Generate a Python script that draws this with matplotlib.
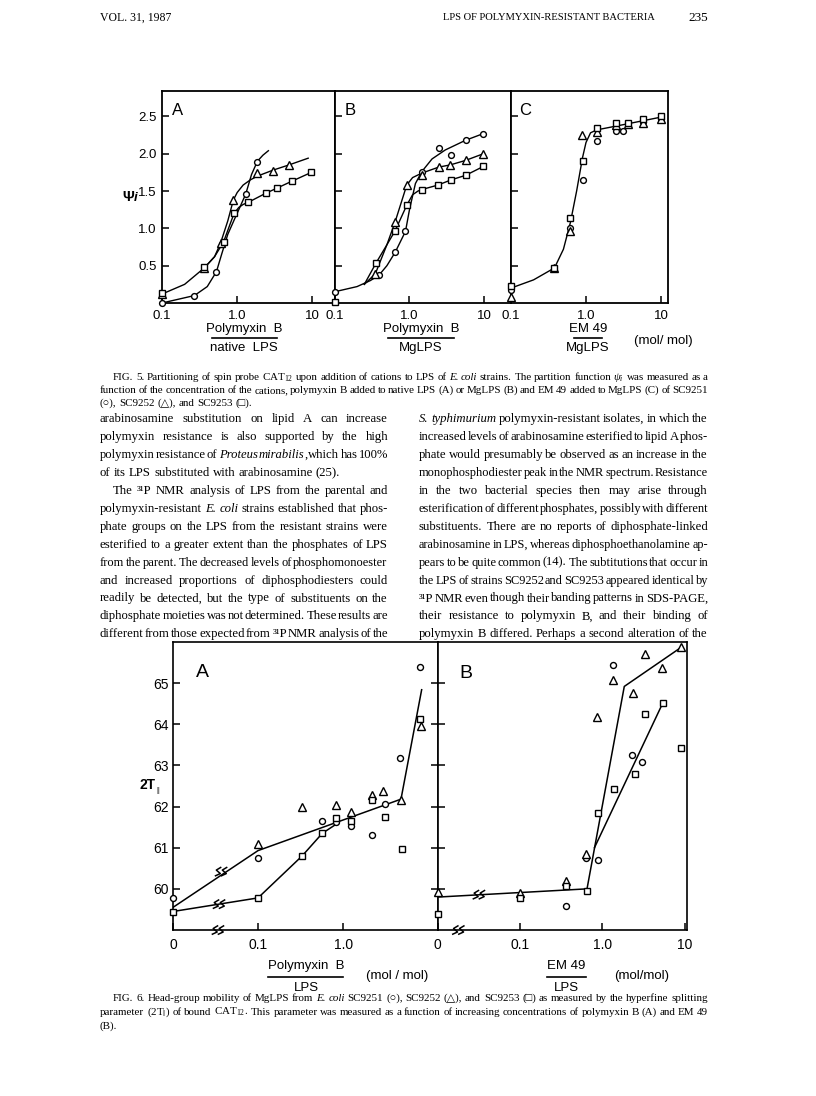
import re
import numpy as np
import matplotlib
matplotlib.use("Agg")
import matplotlib.pyplot as plt
from matplotlib.lines import Line2D
from matplotlib.ticker import NullLocator, FixedLocator, FixedFormatter

plt.rcParams['mathtext.fontset'] = 'custom'
plt.rcParams['mathtext.rm'] = 'Liberation Serif'
plt.rcParams['mathtext.it'] = 'Liberation Serif:italic'

# ---------------- data: Fig. 5 (psi_i vs cation/LPS, mol/mol) ----------------
a_circ_x = [0.1, 0.27, 0.53, 0.62, 1.3, 1.86]
a_circ_y = [0.0, 0.10, 0.42, 0.79, 1.46, 1.89]
a_tri_x = [0.1, 0.365, 0.60, 0.89, 1.86, 2.96, 4.9]
a_tri_y = [0.12, 0.47, 0.80, 1.38, 1.74, 1.77, 1.85]
a_sq_x = [0.1, 0.365, 0.66, 0.91, 1.41, 2.4, 3.4, 5.3, 9.7]
a_sq_y = [0.14, 0.48, 0.82, 1.20, 1.35, 1.47, 1.54, 1.63, 1.75]
# hand-drawn curves
a_circ_cx = [0.1, 0.27, 0.4, 0.53, 0.62, 0.75, 0.9, 1.05, 1.3, 1.55, 1.86, 2.2, 2.6]
a_circ_cy = [0.0, 0.10, 0.22, 0.42, 0.65, 0.92, 1.10, 1.25, 1.46, 1.72, 1.90, 1.98, 2.04]
a_tri_cx = [0.1, 0.2, 0.365, 0.5, 0.6, 0.75, 0.89, 1.0, 1.2, 1.5, 1.86, 3.0, 4.9, 8.8]
a_tri_cy = [0.12, 0.25, 0.47, 0.62, 0.80, 1.10, 1.38, 1.48, 1.58, 1.65, 1.70, 1.78, 1.85, 1.94]
a_sq_cx = [0.365, 0.5, 0.66, 0.8, 0.91, 1.05, 1.2, 1.41, 2.4, 3.4, 5.3, 9.7]
a_sq_cy = [0.47, 0.62, 0.82, 1.05, 1.20, 1.28, 1.32, 1.35, 1.47, 1.54, 1.63, 1.75]

b_circ_x = [0.1, 0.39, 0.645, 0.885, 1.46, 2.5, 3.6, 5.6, 9.7]
b_circ_y = [0.15, 0.37, 0.68, 0.96, 1.76, 2.08, 1.98, 2.18, 2.27]
b_tri_x = [0.35, 0.645, 0.92, 1.46, 2.45, 3.5, 5.6, 9.7]
b_tri_y = [0.39, 1.09, 1.58, 1.72, 1.82, 1.85, 1.91, 2.00]
b_sq_x = [0.1, 0.36, 0.645, 0.92, 1.46, 2.4, 3.6, 5.6, 9.7]
b_sq_y = [0.02, 0.54, 0.97, 1.31, 1.52, 1.58, 1.65, 1.71, 1.83]
b_circ_cx = [0.1, 0.2, 0.3, 0.39, 0.5, 0.645, 0.885, 1.0, 1.2, 1.46, 2.0, 3.0, 5.6, 9.7]
b_circ_cy = [0.15, 0.22, 0.30, 0.37, 0.50, 0.68, 0.96, 1.25, 1.60, 1.76, 1.93, 2.05, 2.18, 2.27]
b_tri_cx = [0.25, 0.35, 0.5, 0.645, 0.92, 1.1, 1.46, 2.45, 3.5, 5.6, 9.7]
b_tri_cy = [0.25, 0.39, 0.78, 1.09, 1.58, 1.68, 1.74, 1.82, 1.85, 1.91, 2.00]
b_sq_cx = [0.25, 0.36, 0.5, 0.645, 0.92, 1.1, 1.3, 1.46, 2.4, 3.6, 5.6, 9.7]
b_sq_cy = [0.25, 0.54, 0.78, 0.97, 1.31, 1.45, 1.50, 1.52, 1.58, 1.65, 1.71, 1.83]

c_circ_x = [0.1, 0.62, 0.91, 1.42, 2.55, 3.07, 5.7, 9.9]
c_circ_y = [0.18, 1.00, 1.65, 2.17, 2.30, 2.31, 2.42, 2.47]
c_tri_x = [0.1, 0.38, 0.62, 0.88, 1.42, 2.55, 3.65, 5.7, 9.9]
c_tri_y = [0.08, 0.47, 0.96, 2.25, 2.29, 2.39, 2.40, 2.41, 2.46]
c_sq_x = [0.1, 0.38, 0.62, 0.91, 1.42, 2.55, 3.65, 5.7, 9.9]
c_sq_y = [0.23, 0.47, 1.14, 1.90, 2.34, 2.41, 2.41, 2.46, 2.51]
c_cx = [0.1, 0.2, 0.38, 0.5, 0.62, 0.75, 0.9, 1.0, 1.15, 1.4, 2.0, 4.0, 10.0]
c_cy = [0.20, 0.31, 0.47, 0.72, 1.08, 1.50, 1.95, 2.15, 2.28, 2.32, 2.35, 2.41, 2.49]

# ---------------- data: Fig. 6 (2T|| vs cation/LPS, 0 = no cation) ----------------
d_circ_x = [0, 0.1, 0.57, 0.82, 1.24, 2.17, 3.1, 4.7, 8.05]
d_circ_y = [59.77, 60.74, 61.65, 61.62, 61.53, 61.31, 62.06, 63.19, 65.40]
d_tri_x = [0.1, 0.33, 0.82, 1.24, 2.17, 2.93, 4.8, 8.2]
d_tri_y = [61.10, 62.00, 62.05, 61.88, 62.28, 62.38, 62.15, 63.95]
d_sq_x = [0, 0.1, 0.33, 0.57, 0.82, 1.24, 2.17, 3.1, 4.9, 8.1]
d_sq_y = [59.43, 59.78, 60.80, 61.35, 61.72, 61.65, 62.16, 61.75, 60.97, 64.12]
d_line1_x = [0, 0.1, 4.8, 8.4]
d_line1_y = [59.55, 60.93, 62.18, 64.84]
d_line2_x = [0, 0.1, 0.33, 0.57, 0.8]
d_line2_y = [59.45, 59.78, 60.80, 61.35, 61.55]

e_circ_x = [0.36, 0.64, 0.89, 1.35, 2.3, 2.98]
e_circ_y = [59.58, 60.75, 60.71, 65.43, 63.25, 63.09]
e_tri_x = [0, 0.1, 0.36, 0.64, 0.86, 1.35, 2.37, 3.3, 5.3, 9.0]
e_tri_y = [59.93, 59.90, 60.18, 60.85, 64.17, 65.08, 64.76, 65.71, 65.38, 65.87]
e_sq_x = [0, 0.1, 0.36, 0.65, 0.89, 1.4, 2.45, 3.3, 5.4, 9.0]
e_sq_y = [59.39, 59.78, 60.08, 59.96, 61.84, 62.42, 62.78, 64.26, 64.52, 63.43]
e_line1_x = [0, 0.65, 1.84, 9.0]
e_line1_y = [59.80, 60.00, 64.92, 65.87]
e_line2_x = [0.8, 5.4]
e_line2_y = [61.00, 64.52]

ZERO = 0.01  # the "0" position sits one decade left of 0.1 on the broken axis

# ---------------- page text ----------------
fig5_caption = [
    "FIG. 5. Partitioning of spin probe CAT$_{12}$ upon addition of cations to LPS of *E.* *coli* strains. The partition function $\\psi_i$ was measured as a",
    "function of the concentration of the cations, polymyxin B added to native LPS (A) or MgLPS (B) and EM 49 added to MgLPS (C) of SC9251",
    "(○), SC9252 (△), and SC9253 (□).",
]
left_col = [
    "arabinosamine substitution on lipid A can increase",
    "polymyxin resistance is also supported by the high",
    "polymyxin resistance of *Proteus* *mirabilis*, which has 100%",
    "of its LPS substituted with arabinosamine (25).",
    "The ³¹P NMR analysis of LPS from the parental and",
    "polymyxin-resistant *E.* *coli* strains established that phos-",
    "phate groups on the LPS from the resistant strains were",
    "esterified to a greater extent than the phosphates of LPS",
    "from the parent. The decreased levels of phosphomonoester",
    "and increased proportions of diphosphodiesters could",
    "readily be detected, but the type of substituents on the",
    "diphosphate moieties was not determined. These results are",
    "different from those expected from ³¹P NMR analysis of the",
]
left_last = [3]      # paragraph ends (not justified)
left_indent = [4]
right_col = [
    "*S.* *typhimurium* polymyxin-resistant isolates, in which the",
    "increased levels of arabinosamine esterified to lipid A phos-",
    "phate would presumably be observed as an increase in the",
    "monophosphodiester peak in the NMR spectrum. Resistance",
    "in the two bacterial species then may arise through",
    "esterification of different phosphates, possibly with different",
    "substituents. There are no reports of diphosphate-linked",
    "arabinosamine in LPS, whereas diphosphoethanolamine ap-",
    "pears to be quite common (14). The subtitutions that occur in",
    "the LPS of strains SC9252 and SC9253 appeared identical by",
    "³¹P NMR even though their banding patterns in SDS-PAGE,",
    "their resistance to polymyxin B, and their binding of",
    "polymyxin B differed. Perhaps a second alteration of the",
]
fig6_caption = [
    "FIG. 6. Head-group mobility of MgLPS from *E.* *coli* SC9251 (○), SC9252 (△), and SC9253 (□) as measured by the hyperfine splitting",
    "parameter (2T$_{\\Vert}$) of bound CAT$_{12}$. This parameter was measured as a function of increasing concentrations of polymyxin B (A) and EM 49",
    "(B).",
]

W, H = 816, 1096
fig = plt.figure(figsize=(W / 100, H / 100), dpi=100)
renderer = fig.canvas.get_renderer()
SERIF = ['Liberation Serif', 'DejaVu Serif', 'DejaVu Sans']
SANS = ['Liberation Sans', 'DejaVu Sans']
BODY = 9.2
CAP = 7.9


def fx(x):
    return x / W


def fy(y):
    return 1 - y / H


def add_ax(l, r, t, b):
    return fig.add_axes([fx(l), fy(b), (r - l) / W, (b - t) / H])


def put_line(line, x0, x1, yb, size, justify=True):
    words = []
    for w in line.split():
        parts = [p for p in re.split(r'(\*[^*]+\*)', w) if p]
        arts = []
        for p in parts:
            style = 'normal'
            if p.startswith('*') and p.endswith('*'):
                p, style = p[1:-1], 'italic'
            arts.append(fig.text(0, 0, p, fontsize=size, family=SERIF,
                                 style=style, va='baseline', ha='left'))
        ws = [a.get_window_extent(renderer).width for a in arts]
        words.append((arts, ws))
    total = sum(sum(ws) for _, ws in words)
    space = 0.25 * size * 100 / 72
    if justify and len(words) > 1:
        gap = (x1 - x0 - total) / (len(words) - 1)
        if gap < 0.15 * size:
            # line too long for the column at this size: shrink it a little
            scale = (x1 - x0 - 0.15 * size * (len(words) - 1)) / total
            for arts, ws in words:
                for a in arts:
                    a.set_fontsize(size * scale)
            words = [(arts, [w * scale for w in ws]) for arts, ws in words]
            gap = 0.15 * size
    else:
        gap = space
    x = x0
    for arts, ws in words:
        for a, w in zip(arts, ws):
            a.set_position((fx(x), fy(yb)))
            x += w
        x += gap


def ftext(x, y, s, size=10, ha='center', va='center', **kw):
    kw.setdefault('family', SANS)
    return fig.text(fx(x), fy(y), s, fontsize=size, ha=ha, va=va, **kw)


def hline(x0, x1, y, lw=1.2):
    fig.add_artist(Line2D([fx(x0), fx(x1)], [fy(y), fy(y)],
                          transform=fig.transFigure, color='black', lw=lw))


def markers(ax, x, y, m, ms):
    ax.plot(x, y, linestyle='none', marker=m, ms=ms, mfc='white', mec='black',
            mew=1.0, zorder=3, clip_on=False)


def brk(ax, x, y):
    # small double zigzag break mark drawn in display space
    X, Y = ax.transData.transform((x, y))
    for dx in (-3.5, 2.5):
        xs = np.array([-3.0, 2.5, -1.5, 3.5]) + X + dx
        ys = np.array([-4.5, -2.0, 1.5, 4.5]) + Y
        fig.add_artist(Line2D(xs / fig.bbox.width, ys / fig.bbox.height,
                              transform=fig.transFigure, color='black', lw=1.1,
                              solid_capstyle='butt'))


def style_ax(ax, spine_lw=1.3):
    for s in ax.spines.values():
        s.set_linewidth(spine_lw)
    ax.xaxis.set_minor_locator(NullLocator())
    ax.yaxis.set_minor_locator(NullLocator())
    ax.tick_params(direction='in', length=5, width=1.1, labelsize=9.5,
                   top=False, right=False)
    for lab in ax.get_xticklabels() + ax.get_yticklabels():
        lab.set_family(SANS)


# ---------------- header ----------------
ftext(100, 18, "VOL. 31, 1987", size=8.5, ha='left', family=SERIF)
ftext(549, 18, "LPS OF POLYMYXIN-RESISTANT BACTERIA", size=7.6, family=SERIF)
ftext(708, 18, "235", size=9.5, ha='right', family=SERIF)

# ---------------- Fig. 5 ----------------
f5_axes = [
    (add_ax(162, 334.5, 91, 303), 19.7, 'A',
     [(a_circ_cx, a_circ_cy), (a_tri_cx, a_tri_cy), (a_sq_cx, a_sq_cy)],
     [(a_circ_x, a_circ_y), (a_tri_x, a_tri_y), (a_sq_x, a_sq_y)]),
    (add_ax(334.5, 511, 91, 303), 22.6, 'B',
     [(b_circ_cx, b_circ_cy), (b_tri_cx, b_tri_cy), (b_sq_cx, b_sq_cy)],
     [(b_circ_x, b_circ_y), (b_tri_x, b_tri_y), (b_sq_x, b_sq_y)]),
    (add_ax(511, 668, 91, 303), 12.4, 'C',
     [(c_cx, c_cy)],
     [(c_circ_x, c_circ_y), (c_tri_x, c_tri_y), (c_sq_x, c_sq_y)]),
]
for i, (ax, xmax, letter, curves, pts) in enumerate(f5_axes):
    ax.set_xscale('log')
    ax.set_xlim(0.1, xmax)
    ax.set_ylim(0, 2.84)
    for cx, cy in curves:
        ax.plot(cx, cy, color='black', lw=1.0, zorder=2)
    for (px_, py_), m, ms in zip(pts, ['o', '^', 's'], [4.2, 5.2, 4.6]):
        markers(ax, px_, py_, m, ms)
    ax.xaxis.set_major_locator(FixedLocator([0.1, 1, 10]))
    ax.xaxis.set_major_formatter(FixedFormatter(['0.1', '1.0', '10']))
    ax.yaxis.set_major_locator(FixedLocator([0.5, 1.0, 1.5, 2.0, 2.5]))
    ax.yaxis.set_major_formatter(FixedFormatter(['0.5', '1.0', '1.5', '2.0', '2.5']))
    style_ax(ax)
    ax.tick_params(axis='x', pad=5)
    ax.tick_params(axis='y', pad=4)
    if i > 0:
        ax.tick_params(labelleft=False)
    ax.text(0.09, 0.91, letter, transform=ax.transAxes, fontsize=12,
            family=SANS, ha='center', va='center')

ftext(128, 197, "Ψ", size=10.5, weight='bold')
ftext(135.5, 198, "i", size=9.5, style='italic', weight='bold')

ftext(244, 329, "Polymyxin  B", size=9.5)
hline(212, 277, 337.5)
ftext(244, 348, "native  LPS", size=9.5)
ftext(421, 329, "Polymyxin  B", size=9.5)
hline(388, 454, 337.5)
ftext(421, 348, "MgLPS", size=9.5)
ftext(588, 329, "EM 49", size=9.5)
hline(574, 602, 337.5)
ftext(588, 348, "MgLPS", size=9.5)
ftext(663, 341, "(mol/ mol)", size=9.5)

# ---------------- text blocks ----------------
put_line(fig5_caption[0], 113, 708, 380, CAP)
put_line(fig5_caption[1], 100, 708, 393, CAP)
put_line(fig5_caption[2], 100, 708, 406, CAP, justify=False)

for k, line in enumerate(left_col):
    x0 = 113 if k in left_indent else 100
    put_line(line, x0, 388, 422 + 17.95 * k, BODY, justify=k not in left_last)
for k, line in enumerate(right_col):
    put_line(line, 419, 708, 422 + 17.95 * k, BODY)

# ---------------- Fig. 6 ----------------
axA = add_ax(173, 437.5, 642, 930)
axB = add_ax(437.5, 687, 642, 930)


def z(x):
    return np.where(np.asarray(x, float) == 0, ZERO, x)


for ax, xmax in ((axA, 12.9), (axB, 10.6)):
    ax.set_xscale('log')
    ax.set_xlim(ZERO, xmax)
    ax.set_ylim(59, 66)

axA.plot(z(d_line1_x), d_line1_y, color='black', lw=1.1, zorder=2)
axA.plot(z(d_line2_x), d_line2_y, color='black', lw=1.1, zorder=2)
markers(axA, z(d_circ_x), d_circ_y, 'o', 4.3)
markers(axA, z(d_tri_x), d_tri_y, '^', 5.6)
markers(axA, z(d_sq_x), d_sq_y, 's', 5.0)

axB.plot(z(e_line1_x), e_line1_y, color='black', lw=1.1, zorder=2)
axB.plot(z(e_line2_x), e_line2_y, color='black', lw=1.1, zorder=2)
markers(axB, z(e_circ_x), e_circ_y, 'o', 4.3)
markers(axB, z(e_tri_x), e_tri_y, '^', 5.6)
markers(axB, z(e_sq_x), e_sq_y, 's', 5.0)

axA.xaxis.set_major_locator(FixedLocator([ZERO, 0.1, 1]))
axA.xaxis.set_major_formatter(FixedFormatter(['0', '0.1', '1.0']))
axB.xaxis.set_major_locator(FixedLocator([ZERO, 0.1, 1, 10]))
axB.xaxis.set_major_formatter(FixedFormatter(['0', '0.1', '1.0', '10']))
for ax in (axA, axB):
    ax.yaxis.set_major_locator(FixedLocator([60, 61, 62, 63, 64, 65]))
    ax.yaxis.set_major_formatter(FixedFormatter(['60', '61', '62', '63', '64', '65']))
    style_ax(ax, spine_lw=1.2)
    ax.tick_params(labelsize=10)
    ax.tick_params(axis='x', pad=6)
    ax.tick_params(axis='y', pad=3)
axA.tick_params(axis='y', right=True)
axB.tick_params(labelleft=False)
axA.text(0.11, 0.895, 'A', transform=axA.transAxes, fontsize=14, family=SANS,
         ha='center', va='center')
axB.text(0.115, 0.89, 'B', transform=axB.transAxes, fontsize=14, family=SANS,
         ha='center', va='center')

# break marks on the zero segment
brk(axA, 0.034, 59.0)
brk(axA, 0.037, 60.42)
brk(axA, 0.035, 59.63)
brk(axB, 0.018, 59.0)
brk(axB, 0.032, 59.86)

ftext(147, 785, "2T", size=10, weight='bold')
ftext(158, 789, "$_{\\Vert}$", size=10)

ftext(306, 966, "Polymyxin  B", size=9.5)
hline(268, 343, 976.5)
ftext(306, 988, "LPS", size=9.5)
ftext(397, 976, "(mol / mol)", size=9.5)
ftext(566, 966, "EM 49", size=9.5)
hline(547, 586, 976.5)
ftext(566, 988, "LPS", size=9.5)
ftext(642, 976, "(mol/mol)", size=9.5)

put_line(fig6_caption[0], 113, 708, 1001, CAP)
put_line(fig6_caption[1], 100, 708, 1015, CAP)
put_line(fig6_caption[2], 100, 708, 1029, CAP, justify=False)

fig.savefig("out.png", dpi=100)
